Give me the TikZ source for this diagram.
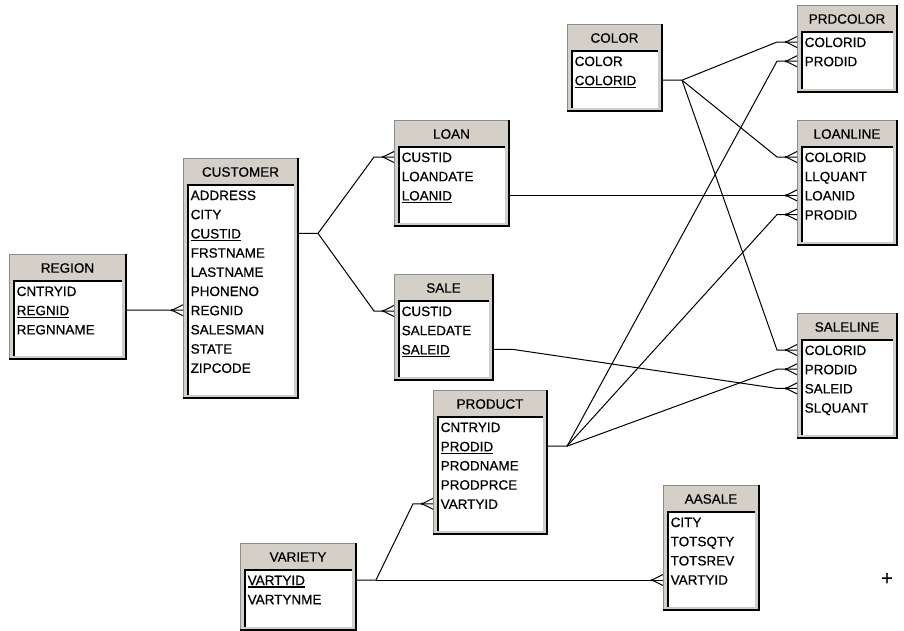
\documentclass[tikz,border=0pt]{standalone}
\usepackage{fontspec}
\setmainfont{Liberation Sans}[FakeBold=0.6]
\usepackage{tikz}
\usetikzlibrary{positioning,calc}

\definecolor{panel}{HTML}{D4D0C8}
\definecolor{rim}{HTML}{8C8C8C}

% primary key column (underlined)
\newcommand{\pkey}[1]{\setbox0=\hbox{#1}\rlap{\rule[-2.6pt]{\wd0}{1.2pt}}\box0}

% table: name, x, y, width, height, title, columns
\newcommand{\entity}[7]{%
  \node[tablebox, minimum width=#4pt, minimum height=#5pt, anchor=north west] (#1) at (#2,#3) {};
  \draw[rim, line width=0.8pt] (#1.south west) -- (#1.north west) -- (#1.north east);
  \draw[line width=1.6pt] (#1.north east) -- (#1.south east) -- (#1.south west);
  \path (#1.north west) ++(5,27) coordinate (#1-nw);
  \path (#1.south east) ++(-4,-3) coordinate (#1-se);
  \fill[white] (#1-nw) rectangle (#1-se);
  \draw[gray!40, line width=0.8pt] (#1-nw -| #1-se) -- (#1-se) -- (#1-nw |- #1-se);
  \draw[line width=1.6pt] (#1-nw |- #1-se) -- (#1-nw) -- (#1-nw -| #1-se);
  \path (#1.north) ++(0,14) node[tabletitle] (#1-title) {#6};
  \foreach \col [count=\i] in {#7}
    \node[tablerow] (#1-\i) at ({#2+7.5},{#3+37+(\i-1)*19.2}) {\col};
}

% many-side end of a link
\newcommand{\crowfoot}[1]{%
  \draw[link] (#1) ++(-11,0) -- ++(11,-5.5) (#1) ++(-11,0) -- ++(11,5.5);
  \fill (#1) ++(-11,0) circle (1.4pt);
}

\begin{document}
\begin{tikzpicture}[x=1pt, y=-1pt,
    tablebox/.style={fill=panel, draw=none, inner sep=0pt, outer sep=0pt},
    tabletitle/.style={inner sep=0pt, font=\fontsize{13.5}{16}\selectfont},
    tablerow/.style={anchor=west, inner sep=0pt, text height=10pt, text depth=0pt,
      font=\fontsize{13.5}{16}\selectfont},
    link/.style={draw, line width=1pt}]
  \useasboundingbox[fill=white] (0,0) rectangle (904,630);

  % Tables
  \entity{region}{9}{254}{117}{105}{REGION}{CNTRYID, \pkey{REGNID}, REGNNAME}
  \entity{customer}{183}{158}{115}{240}{CUSTOMER}{ADDRESS, CITY, \pkey{CUSTID}, FRSTNAME,
    LASTNAME, PHONENO, REGNID, SALESMAN, STATE, ZIPCODE}
  \entity{loan}{394}{120}{115}{106}{LOAN}{CUSTID, LOANDATE, \pkey{LOANID}}
  \entity{sale}{394}{274}{99}{106}{SALE}{CUSTID, SALEDATE, \pkey{SALEID}}
  \entity{color}{567}{24}{95}{87}{COLOR}{COLOR, \pkey{COLORID}}
  \entity{prdcolor}{797}{5}{100}{87}{PRDCOLOR}{COLORID, PRODID}
  \entity{loanline}{797}{120}{100}{125}{LOANLINE}{COLORID, LLQUANT, LOANID, PRODID}
  \entity{saleline}{797}{313}{100}{125}{SALELINE}{COLORID, PRODID, SALEID, SLQUANT}
  \entity{product}{433}{390}{114}{144}{PRODUCT}{CNTRYID, \pkey{PRODID}, PRODNAME, PRODPRCE, VARTYID}
  \entity{variety}{240}{543}{116}{87}{VARIETY}{\pkey{VARTYID}, VARTYNME}
  \entity{aasale}{663}{485}{96}{125}{AASALE}{CITY, TOTSQTY, TOTSREV, VARTYID}

  % REGION -> CUSTOMER
  \draw[link] (region.east |- region-2) -- (customer.west |- customer-7);
  \crowfoot{customer.west |- customer-7}

  % CUSTOMER -> LOAN, SALE
  \draw[link] (customer.east |- customer-3) -- ++(20,0) coordinate (custfork)
    -- ([xshift=-20pt]loan.west |- loan-1) -- (loan.west |- loan-1);
  \draw[link] (custfork) -- ([xshift=-20pt]sale.west |- sale-1) -- (sale.west |- sale-1);
  \crowfoot{loan.west |- loan-1}
  \crowfoot{sale.west |- sale-1}

  % LOAN -> LOANLINE
  \draw[link] (loan.east |- loan-3) -- (loanline.west |- loanline-3);
  \crowfoot{loanline.west |- loanline-3}

  % SALE -> SALELINE
  \draw[link] (sale.east |- sale-3) -- ++(20,0)
    -- ([xshift=-20pt]saleline.west |- saleline-3) -- (saleline.west |- saleline-3);
  \crowfoot{saleline.west |- saleline-3}

  % COLOR -> PRDCOLOR, LOANLINE, SALELINE
  \draw[link] (color.east |- color-2) -- ++(20,0) coordinate (colorfork)
    -- ([xshift=-20pt]prdcolor.west |- prdcolor-1) -- (prdcolor.west |- prdcolor-1);
  \draw[link] (colorfork) -- ([xshift=-20pt]loanline.west |- loanline-1) -- (loanline.west |- loanline-1);
  \draw[link] (colorfork) -- ([xshift=-20pt]saleline.west |- saleline-1) -- (saleline.west |- saleline-1);
  \crowfoot{prdcolor.west |- prdcolor-1}
  \crowfoot{loanline.west |- loanline-1}
  \crowfoot{saleline.west |- saleline-1}

  % PRODUCT -> PRDCOLOR, LOANLINE, SALELINE
  \draw[link] (product.east |- product-2) -- ++(20,0) coordinate (prodfork)
    -- ([xshift=-20pt]prdcolor.west |- prdcolor-2) -- (prdcolor.west |- prdcolor-2);
  \draw[link] (prodfork) -- ([xshift=-20pt]loanline.west |- loanline-4) -- (loanline.west |- loanline-4);
  \draw[link] (prodfork) -- ([xshift=-20pt]saleline.west |- saleline-2) -- (saleline.west |- saleline-2);
  \crowfoot{prdcolor.west |- prdcolor-2}
  \crowfoot{loanline.west |- loanline-4}
  \crowfoot{saleline.west |- saleline-2}

  % VARIETY -> PRODUCT, AASALE
  \draw[link] (variety.east |- variety-1) -- ++(20,0) coordinate (varfork)
    -- ([xshift=-20pt]product.west |- product-5) -- (product.west |- product-5);
  \draw[link] (varfork) -- (aasale.west |- varfork);
  \crowfoot{product.west |- product-5}
  \crowfoot{aasale.west |- varfork}

  \node[font=\fontsize{20}{20}\selectfont, inner sep=0pt] (cursor) at (887,579) {+};
\end{tikzpicture}
\end{document}
